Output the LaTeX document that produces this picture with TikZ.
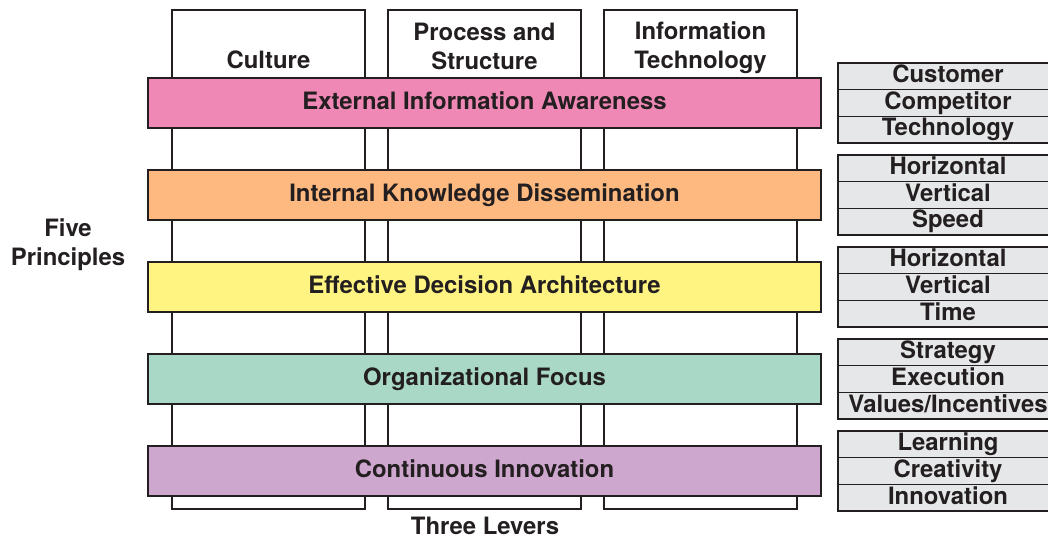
\documentclass[tikz,border=0pt]{standalone}
\usepackage{fontspec}
\setmainfont{TeX Gyre Heros}
\usepackage{tikz}
\usetikzlibrary{positioning}

\definecolor{inkline}{HTML}{231F20}
\definecolor{pinkbar}{HTML}{F088B5}
\definecolor{orangebar}{HTML}{FDB97F}
\definecolor{yellowbar}{HTML}{FFF382}
\definecolor{tealbar}{HTML}{A9D9C6}
\definecolor{purplebar}{HTML}{CEA7CF}
\definecolor{itemgray}{HTML}{E6E7E8}

\begin{document}
\begin{tikzpicture}[
    font=\fontsize{13.6}{16.4}\selectfont\bfseries,
    lever/.style={rectangle, draw=inkline, line width=1.1pt, fill=white,
        minimum width=3.86cm, minimum height=9.98cm, inner sep=0pt},
    bar/.style={rectangle, draw=inkline, line width=1.1pt, text=inkline,
        minimum width=13.46cm, minimum height=1cm, inner sep=0pt,
        text height=0.72em, text depth=0em},
    item/.style={rectangle, draw=inkline, line width=0.85pt, fill=itemgray, text=inkline,
        minimum width=4.4cm, minimum height=0.5333cm, inner sep=0pt,
        text height=0.72em, text depth=0em}
    ]
            \useasboundingbox (0, 0) rectangle (20.96, -10.76);

            % three levers
            \node[lever] (culture) at (5.37, -5.19) {};
            \node[lever] (process) at (9.69, -5.19) {};
            \node[lever] (infotech) at (14.01, -5.19) {};
            \node[text=inkline] (culturelabel) at (5.37, -1.2) {Culture};
            \node[text=inkline, align=center] (processlabel) at (9.69, -0.93) {Process and\\Structure};
            \node[text=inkline, align=center] (infotechlabel) at (14.01, -0.95) {Information\\Technology};

            % five principles
            \node[bar, fill=pinkbar] (external) at (9.69, -2.06) {External Information Awareness};
            \node[bar, fill=orangebar] (internal) at (9.69, -3.9) {Internal Knowledge Dissemination};
            \node[bar, fill=yellowbar] (decision) at (9.69, -5.74) {Effective Decision Architecture};
            \node[bar, fill=tealbar] (focus) at (9.69, -7.58) {Organizational Focus};
            \node[bar, fill=purplebar] (innovation) at (9.69, -9.42) {Continuous Innovation};

            \node[text=inkline, align=center] (five) at (1.36, -4.9) {Five\\Principles};
            \node[text=inkline] (three) at (9.7, -10.52) {Three Levers};

            % dimensions
            \node[item] (customer) at (18.96, -1.5267) {Customer};
            \node[item] (competitor) at (18.96, -2.06) {Competitor};
            \node[item] (technology) at (18.96, -2.5933) {Technology};

            \node[item] (horizontal) at (18.96, -3.3667) {Horizontal};
            \node[item] (vertical) at (18.96, -3.9) {Vertical};
            \node[item] (speed) at (18.96, -4.4333) {Speed};

            \node[item] (horizontaltwo) at (18.96, -5.2067) {Horizontal};
            \node[item] (verticaltwo) at (18.96, -5.74) {Vertical};
            \node[item] (time) at (18.96, -6.2733) {Time};

            \node[item] (strategy) at (18.96, -7.0467) {Strategy};
            \node[item] (execution) at (18.96, -7.58) {Execution};
            \node[item] (values) at (18.96, -8.1133) {Values/Incentives};

            \node[item] (learning) at (18.96, -8.8867) {Learning};
            \node[item] (creativity) at (18.96, -9.42) {Creativity};
            \node[item] (innov) at (18.96, -9.9533) {Innovation};
        \end{tikzpicture}
\end{document}
